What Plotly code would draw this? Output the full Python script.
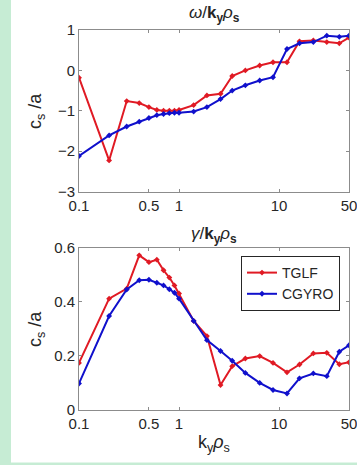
import plotly.graph_objects as go
import numpy as np

ky = [0.1, 0.2, 0.3, 0.4, 0.5, 0.6, 0.7, 0.8, 0.9, 1.0,
      1.4, 1.9, 2.6, 3.4, 4.6, 6.4, 8.7, 12, 16, 22, 30, 40, 50]

omega_tglf = [-0.18, -2.23, -0.76, -0.81, -0.91, -0.98, -1.0, -1.0, -1.0, -0.98,
              -0.86, -0.62, -0.58, -0.14, 0.0, 0.12, 0.2, 0.2, 0.72, 0.74, 0.7, 0.67, 0.81]
omega_cgyro = [-2.12, -1.61, -1.39, -1.27, -1.18, -1.11, -1.08, -1.06, -1.05, -1.05,
               -1.02, -0.91, -0.71, -0.5, -0.37, -0.25, -0.17, 0.53, 0.67, 0.7, 0.86, 0.83, 0.86]

gamma_tglf = [0.174, 0.411, 0.448, 0.571, 0.546, 0.555, 0.516, 0.489, 0.46, 0.43,
              0.329, 0.273, 0.092, 0.162, 0.19, 0.199, 0.174, 0.139, 0.168, 0.209, 0.211, 0.169, 0.176]
gamma_cgyro = [0.098, 0.347, 0.445, 0.479, 0.481, 0.47, 0.46, 0.446, 0.433, 0.411,
               0.329, 0.258, 0.218, 0.182, 0.137, 0.1, 0.074, 0.061, 0.117, 0.135, 0.125, 0.215, 0.239]

x_ticks = [0.1, 0.5, 1, 10, 50]
x_ticklabels = ["0.1", "0.5", "1", "10", "50"]
y1_ticks = [-3, -2, -1, 0, 1]
y2_ticks = [0, 0.2, 0.4, 0.6]
y2_ticklabels = ["0", "0.2", "0.4", "0.6"]

RED = "#e01a24"
BLUE = "#1010cc"
GREEN = "#c6ecd4"
TXT = "#262626"
W, H = 357, 465
FONT = "Liberation Sans"

def px(x):
    return x / W

def py(y):
    return 1 - y / H

fig = go.Figure()

mk = dict(symbol="diamond", size=4.5)
fig.add_trace(go.Scatter(x=ky, y=omega_tglf, mode="lines+markers", name="TGLF",
                         line=dict(color=RED, width=2), marker=dict(color=RED, **mk),
                         xaxis="x", yaxis="y", showlegend=False))
fig.add_trace(go.Scatter(x=ky, y=omega_cgyro, mode="lines+markers", name="CGYRO",
                         line=dict(color=BLUE, width=2), marker=dict(color=BLUE, **mk),
                         xaxis="x", yaxis="y", showlegend=False))
fig.add_trace(go.Scatter(x=ky, y=gamma_tglf, mode="lines+markers", name="TGLF",
                         line=dict(color=RED, width=2), marker=dict(color=RED, **mk),
                         xaxis="x2", yaxis="y2"))
fig.add_trace(go.Scatter(x=ky, y=gamma_cgyro, mode="lines+markers", name="CGYRO",
                         line=dict(color=BLUE, width=2), marker=dict(color=BLUE, **mk),
                         xaxis="x2", yaxis="y2"))

axcommon = dict(showline=True, linecolor="#8c8c8c", linewidth=1, mirror="ticks",
                ticks="inside", ticklen=3, tickcolor="#8c8c8c", showgrid=False,
                zeroline=False, automargin=False, ticklabeloverflow="allow",
                tickfont=dict(family=FONT, size=15, color=TXT))

xdom = [px(79), px(349)]


def ann(text, x, y, size, angle=0):
    return dict(text=text, x=px(x), y=py(y), xref="paper", yref="paper",
                xanchor="center", yanchor="middle", showarrow=False, textangle=angle,
                font=dict(family=FONT, size=size, color=TXT))


fig.update_layout(
    width=W, height=H,
    margin=dict(l=0, r=0, t=0, b=0),
    paper_bgcolor=GREEN, plot_bgcolor="white",
    xaxis=dict(type="log", range=[-1, np.log10(50)], domain=xdom, anchor="y",
               tickvals=x_ticks, ticktext=x_ticklabels, **axcommon),
    yaxis=dict(range=[-3, 1], domain=[py(191.5), py(30)], anchor="x",
               tickvals=y1_ticks, **axcommon),
    xaxis2=dict(type="log", range=[-1, np.log10(50)], domain=xdom, anchor="y2",
                tickvals=x_ticks, ticktext=x_ticklabels, **axcommon),
    yaxis2=dict(range=[0, 0.6], domain=[py(410), py(247.5)], anchor="x2",
                tickvals=y2_ticks, ticktext=y2_ticklabels, **axcommon),
    legend=dict(x=px(340), y=py(256), xanchor="right", yanchor="top",
                bgcolor="white", bordercolor=TXT, borderwidth=1,
                font=dict(family=FONT, size=14, color=TXT),
                tracegroupgap=0, itemwidth=30),
    shapes=[
        dict(type="rect", xref="paper", yref="paper", x0=px(11), x1=1, y0=py(462.5), y1=1,
             fillcolor="white", line=dict(width=0), layer="below"),
    ],
    annotations=[
        ann("<i>ω</i>/<b>k<sub>y</sub></b><i>ρ</i><sub><b>s</b></sub>", 214, 14, 17),
        ann("<i>γ</i>/<b>k<sub>y</sub></b><i>ρ</i><sub><b>s</b></sub>", 214, 235, 17),
        ann("c<sub>s</sub> /a", 36, 111, 18, -90),
        ann("c<sub>s</sub> /a", 36, 329, 18, -90),
        ann("k<sub>y</sub><i>ρ</i><sub>s</sub>", 214, 443, 18),
    ],
)

fig.write_html("out.html")
